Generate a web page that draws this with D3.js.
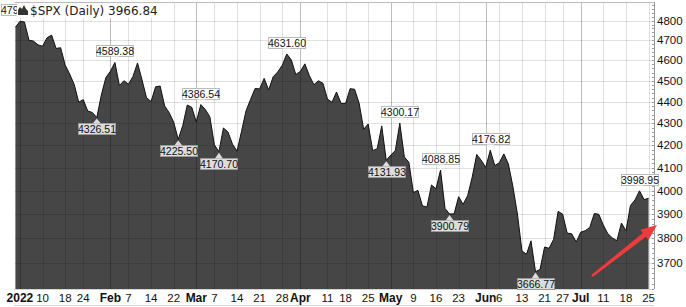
<!DOCTYPE html>
<html>
<head>
<meta charset="utf-8">
<script src="https://cdn.jsdelivr.net/npm/d3@7"></script>
<style>
  body { margin: 0; background: #fff; }
  svg { display: block; }
</style>
</head>
<body>
<svg id="chart" width="686" height="307"></svg>
<script>
// daily closes, $SPX
var dates = [
  "2021-12-31",
  "2022-01-03","2022-01-04","2022-01-05","2022-01-06","2022-01-07","2022-01-10","2022-01-11","2022-01-12","2022-01-13","2022-01-14",
  "2022-01-18","2022-01-19","2022-01-20","2022-01-21","2022-01-24","2022-01-25","2022-01-26","2022-01-27","2022-01-28","2022-01-31",
  "2022-02-01","2022-02-02","2022-02-03","2022-02-04","2022-02-07","2022-02-08","2022-02-09","2022-02-10","2022-02-11","2022-02-14",
  "2022-02-15","2022-02-16","2022-02-17","2022-02-18","2022-02-22","2022-02-23","2022-02-24","2022-02-25","2022-02-28",
  "2022-03-01","2022-03-02","2022-03-03","2022-03-04","2022-03-07","2022-03-08","2022-03-09","2022-03-10","2022-03-11","2022-03-14",
  "2022-03-15","2022-03-16","2022-03-17","2022-03-18","2022-03-21","2022-03-22","2022-03-23","2022-03-24","2022-03-25","2022-03-28",
  "2022-03-29","2022-03-30","2022-03-31",
  "2022-04-01","2022-04-04","2022-04-05","2022-04-06","2022-04-07","2022-04-08","2022-04-11","2022-04-12","2022-04-13","2022-04-14",
  "2022-04-18","2022-04-19","2022-04-20","2022-04-21","2022-04-22","2022-04-25","2022-04-26","2022-04-27","2022-04-28","2022-04-29",
  "2022-05-02","2022-05-03","2022-05-04","2022-05-05","2022-05-06","2022-05-09","2022-05-10","2022-05-11","2022-05-12","2022-05-13",
  "2022-05-16","2022-05-17","2022-05-18","2022-05-19","2022-05-20","2022-05-23","2022-05-24","2022-05-25","2022-05-26","2022-05-27",
  "2022-05-31",
  "2022-06-01","2022-06-02","2022-06-03","2022-06-06","2022-06-07","2022-06-08","2022-06-09","2022-06-10","2022-06-13","2022-06-14",
  "2022-06-15","2022-06-16","2022-06-17","2022-06-21","2022-06-22","2022-06-23","2022-06-24","2022-06-27","2022-06-28","2022-06-29",
  "2022-06-30",
  "2022-07-01","2022-07-05","2022-07-06","2022-07-07","2022-07-08","2022-07-11","2022-07-12","2022-07-13","2022-07-14","2022-07-15",
  "2022-07-18","2022-07-19","2022-07-20","2022-07-21","2022-07-22","2022-07-25"
];
var closes = [
  4766.18,
  4796.56, 4793.54, 4700.58, 4696.05, 4677.03, 4670.29, 4713.07, 4726.35, 4659.03, 4662.85,
  4577.11, 4532.76, 4482.73, 4397.94, 4410.13, 4356.45, 4349.93, 4326.51, 4431.85, 4515.55,
  4546.54, 4589.38, 4477.44, 4500.53, 4483.87, 4521.54, 4587.18, 4504.08, 4418.64, 4401.67,
  4471.07, 4475.01, 4380.26, 4348.87, 4304.76, 4225.50, 4288.70, 4384.65, 4373.94,
  4306.26, 4386.54, 4363.49, 4328.87, 4201.09, 4170.70, 4277.88, 4259.52, 4204.31, 4173.11,
  4262.45, 4357.86, 4411.67, 4463.12, 4461.18, 4511.61, 4456.24, 4520.16, 4543.06, 4575.52,
  4631.60, 4602.45, 4530.41,
  4545.86, 4582.64, 4525.12, 4481.15, 4500.21, 4488.28, 4412.53, 4397.45, 4446.59, 4392.59,
  4391.69, 4462.21, 4459.45, 4393.66, 4271.78, 4296.12, 4175.20, 4183.96, 4287.50, 4131.93,
  4155.38, 4175.48, 4300.17, 4146.87, 4123.34, 3991.24, 4001.05, 3935.18, 3930.08, 4023.89,
  4008.01, 4088.85, 3923.68, 3900.79, 3901.36, 3973.75, 3941.48, 3978.73, 4057.84, 4158.24,
  4132.15,
  4101.23, 4176.82, 4108.54, 4121.43, 4160.68, 4115.77, 4017.82, 3900.86, 3749.63, 3735.48,
  3789.99, 3666.77, 3674.84, 3764.79, 3759.89, 3795.73, 3911.74, 3900.11, 3821.55, 3818.83,
  3785.38,
  3825.33, 3831.39, 3845.08, 3902.62, 3899.38, 3854.43, 3818.80, 3801.78, 3790.38, 3863.16,
  3830.85, 3936.69, 3959.90, 3998.95, 3961.63, 3966.84
];

var tickDates = ["2022-01-03","2022-01-10","2022-01-18","2022-01-24","2022-02-01","2022-02-07","2022-02-14","2022-02-22",
  "2022-03-01","2022-03-07","2022-03-14","2022-03-21","2022-03-28","2022-04-01","2022-04-11","2022-04-18","2022-04-25",
  "2022-05-02","2022-05-09","2022-05-16","2022-05-23","2022-06-01","2022-06-06","2022-06-13","2022-06-21","2022-06-27",
  "2022-07-01","2022-07-11","2022-07-18","2022-07-25"];
var tickLabels = ["2022","10","18","24","Feb","7","14","22","Mar","7","14","21","28","Apr","11","18","25",
  "May","9","16","23","Jun","6","13","21","27","Jul","11","18","25"];
var monthLabels = ["2022","Feb","Mar","Apr","May","Jun","Jul"];

var priceTicks = [3700, 3800, 3900, 4000, 4100, 4200, 4300, 4400, 4500, 4600, 4700, 4800];

var highDates = ["2022-01-03","2022-02-02","2022-03-02","2022-03-29","2022-05-04","2022-05-17","2022-06-02","2022-07-21"];
var lowDates = ["2022-01-27","2022-02-23","2022-03-08","2022-04-29","2022-05-19","2022-06-16"];

var title = "$SPX (Daily) 3966.84";

var W = 686, H = 307;
var plot = { left: 14.5, right: 654, top: 3, bottom: 289 };

var svg = d3.select('#chart');
var data = dates.map(function(d, i) { return { i: i, date: d, close: closes[i] }; });
var idx = function(d) { return dates.indexOf(d); };

var x = d3.scaleLinear().domain([-0.2, 141.2]).range([plot.left, plot.right]);
var y = d3.scaleLog().domain([3599, 4892]).range([plot.bottom, plot.top]);

svg.append('clipPath').attr('id', 'plotClip')
  .append('rect')
  .attr('x', plot.left).attr('y', plot.top)
  .attr('width', plot.right - plot.left).attr('height', plot.bottom - plot.top);

var canvas = svg.append('g').attr('clip-path', 'url(#plotClip)');

// price area
var area = d3.area()
  .x(function(d) { return x(d.i); })
  .y0(plot.bottom)
  .y1(function(d) { return y(d.close); });
var line = d3.line()
  .x(function(d) { return x(d.i); })
  .y(function(d) { return y(d.close); });

canvas.append('path').datum(data)
  .attr('d', area)
  .attr('fill', '#464646');
canvas.append('path').datum(data)
  .attr('d', line)
  .attr('fill', 'none')
  .attr('stroke', '#111')
  .attr('stroke-width', 1);

// grid drawn over, translucent so it reads on white and on the fill
var grid = canvas.append('g');
grid.selectAll('.hgrid').data(priceTicks).enter().append('line')
  .attr('x1', plot.left).attr('x2', plot.right)
  .attr('y1', function(d) { return Math.round(y(d)) + 0.5; })
  .attr('y2', function(d) { return Math.round(y(d)) + 0.5; })
  .attr('stroke', 'rgba(0,0,0,0.12)');
grid.selectAll('.vgrid').data(tickDates).enter().append('line')
  .attr('x1', function(d) { return Math.round(x(idx(d))) + 0.5; })
  .attr('x2', function(d) { return Math.round(x(idx(d))) + 0.5; })
  .attr('y1', plot.top).attr('y2', plot.bottom)
  .attr('stroke', function(d, i) {
    return monthLabels.indexOf(tickLabels[i]) >= 0 ? 'rgba(0,0,0,0.26)' : 'rgba(0,0,0,0.12)';
  });

// frame
svg.append('line')
  .attr('x1', plot.left).attr('x2', plot.right)
  .attr('y1', plot.top - 0.5).attr('y2', plot.top - 0.5)
  .attr('stroke', '#bbb');
svg.append('line')
  .attr('x1', plot.right + 0.5).attr('x2', plot.right + 0.5)
  .attr('y1', plot.top - 1).attr('y2', plot.bottom)
  .attr('stroke', '#999');
[plot.bottom + 0.5, 305.5].forEach(function(yy) {
  svg.append('line')
    .attr('x1', plot.left).attr('x2', plot.right)
    .attr('y1', yy).attr('y2', yy)
    .attr('stroke', '#aaa').attr('stroke-dasharray', '1,1');
});

// right axis
var minor = d3.range(3600, 4900, 20).filter(function(v) { return y(v) > plot.top && y(v) < plot.bottom; });
svg.selectAll('.minor').data(minor).enter().append('line')
  .attr('x1', plot.right - 2).attr('x2', plot.right)
  .attr('y1', function(d) { return Math.round(y(d)) + 0.5; })
  .attr('y2', function(d) { return Math.round(y(d)) + 0.5; })
  .attr('stroke', '#999');
svg.selectAll('.ylab').data(priceTicks).enter().append('text')
  .attr('x', plot.right + 3)
  .attr('y', function(d) { return y(d) + 4; })
  .attr('font-family', 'Liberation Sans, Arial, sans-serif')
  .attr('font-size', 11.5)
  .attr('fill', '#111')
  .text(function(d) { return d; });

// bottom axis
svg.selectAll('.xlab').data(tickDates).enter().append('text')
  .attr('x', function(d) { return x(idx(d)); })
  .attr('y', 301.5)
  .attr('text-anchor', 'middle')
  .attr('font-family', 'Liberation Sans, Arial, sans-serif')
  .attr('font-size', function(d, i) { return monthLabels.indexOf(tickLabels[i]) >= 0 ? 12 : 11.5; })
  .attr('font-weight', function(d, i) { return monthLabels.indexOf(tickLabels[i]) >= 0 ? 'bold' : 'normal'; })
  .attr('fill', '#111')
  .text(function(d, i) { return tickLabels[i]; });

// high / low value flags
var flags = highDates.map(function(d) { return { i: idx(d), kind: 'hi' }; })
  .concat(lowDates.map(function(d) { return { i: idx(d), kind: 'lo' }; }));

// the first flag sits under the title box; clip it to the part left of the box
svg.append('clipPath').attr('id', 'flagClip')
  .append('path')
  .attr('d', 'M0,0H17V19H' + W + 'V' + H + 'H0Z');

var flagG = svg.append('g').attr('clip-path', 'url(#flagClip)');
flags.forEach(function(f) {
  var px = x(f.i), py = y(closes[f.i]);
  var txt = closes[f.i].toFixed(2);
  var bw = 37, bh = 11, gap = 6;
  var hi = f.kind === 'hi';
  var by = hi ? py - gap - bh : py + gap;
  var fill = hi ? '#fff' : '#dcdcdc';
  var g = flagG.append('g');
  g.append('rect')
    .attr('x', Math.round(px - bw / 2) + 0.5).attr('y', Math.round(by) + 0.5)
    .attr('width', bw).attr('height', bh)
    .attr('fill', fill).attr('stroke', hi ? '#bbb' : '#999');
  var tipY = hi ? py - 1 : py + 1;
  var baseY = hi ? Math.round(by) + bh + 0.5 : Math.round(by) + 0.5;
  g.append('path')
    .attr('d', 'M' + (px - 4) + ',' + baseY + 'L' + px + ',' + tipY + 'L' + (px + 4) + ',' + baseY + 'Z')
    .attr('fill', fill);
  g.append('text')
    .attr('x', Math.round(px - bw / 2) + 0.5 + bw / 2)
    .attr('y', Math.round(by) + 9.5)
    .attr('text-anchor', 'middle')
    .attr('font-family', 'Liberation Sans, Arial, sans-serif')
    .attr('font-size', 10.5)
    .attr('fill', '#111')
    .text(txt);
});

// title box
var tg = svg.append('g');
tg.append('rect').attr('x', 17).attr('y', 3).attr('width', 135).attr('height', 15).attr('fill', '#fff');
tg.append('path')
  .attr('d', 'M18,15 L18,10 L20,7 L22,9 L24,5 L26,9 L28,11 L28,15 Z')
  .attr('fill', '#333');
tg.append('text')
  .attr('x', 30).attr('y', 14.5)
  .attr('font-family', 'DejaVu Sans, Verdana, sans-serif')
  .attr('font-size', 12)
  .attr('fill', '#222')
  .text(title);

// red arrow
var tail = [592, 276], tip = [657, 225];
var ux = tip[0] - tail[0], uy = tip[1] - tail[1];
var len = Math.sqrt(ux * ux + uy * uy);
ux /= len; uy /= len;
var nx = -uy, ny = ux;
var hb = [tip[0] - 16 * ux, tip[1] - 16 * uy];
var pt = function(p, w) { return [p[0] + nx * w, p[1] + ny * w]; };
var arrowPts = [pt(tail, 1.2), pt(hb, 2.5), pt(hb, 6.5), tip, pt(hb, -6.5), pt(hb, -2.5), pt(tail, -1.2)];
svg.append('path')
  .attr('d', 'M' + arrowPts.map(function(p) { return p[0].toFixed(1) + ',' + p[1].toFixed(1); }).join('L') + 'Z')
  .attr('fill', '#ee3b3b');
</script>
</body>
</html>
